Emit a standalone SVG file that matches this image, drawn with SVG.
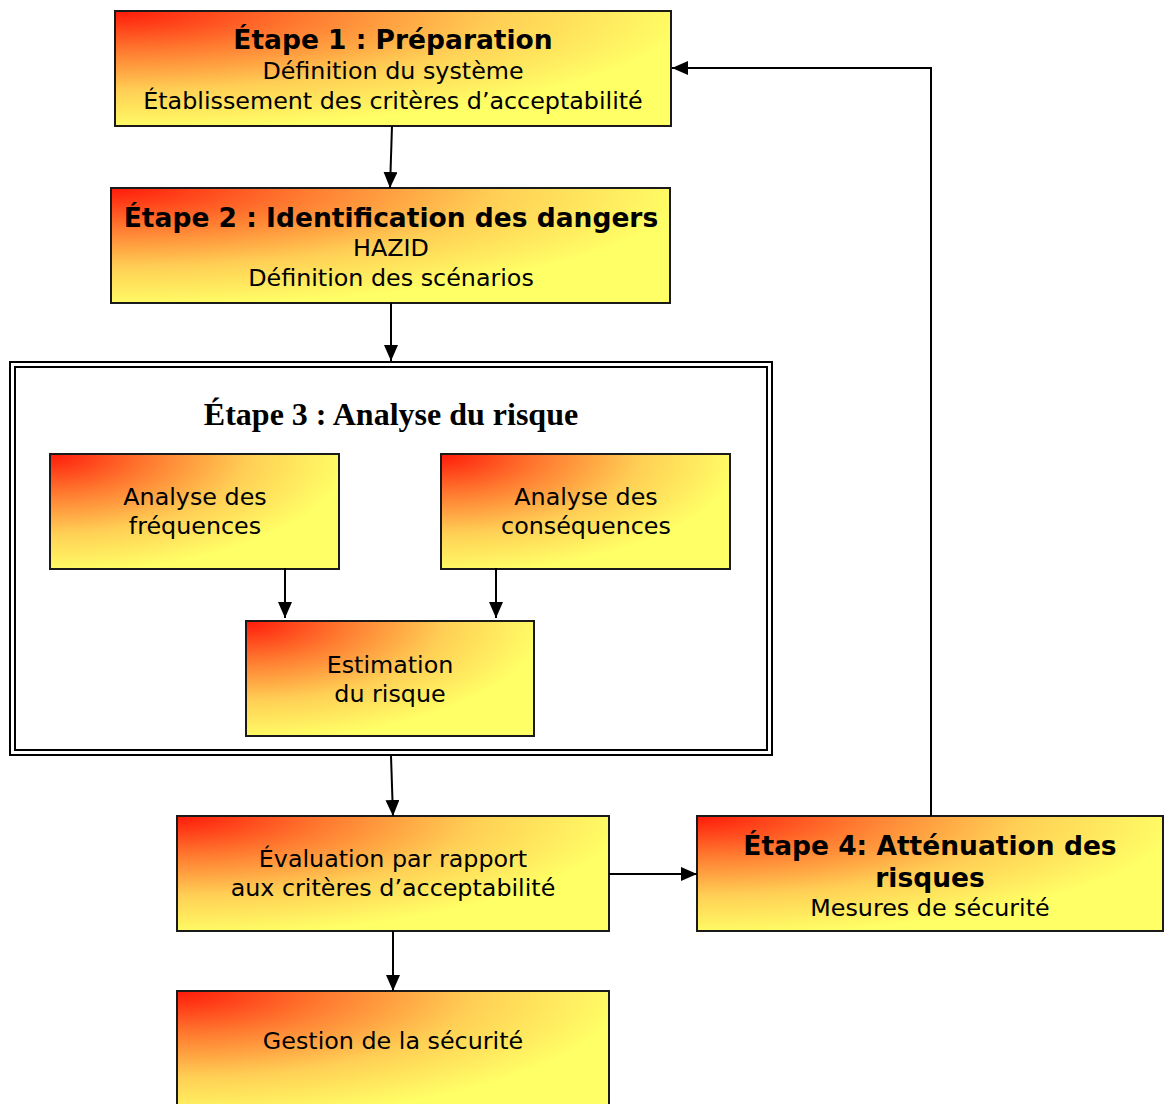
<svg xmlns="http://www.w3.org/2000/svg" width="1164" height="1104" viewBox="0 0 1164 1104">
<defs>
<radialGradient id="g" cx="0" cy="0" r="1.15" gradientUnits="objectBoundingBox">
<stop offset="0" stop-color="#ff1a0a"/>
<stop offset="0.3" stop-color="#ff7a30"/>
<stop offset="0.6" stop-color="#ffcf55"/>
<stop offset="0.9" stop-color="#ffff66"/>
<stop offset="1" stop-color="#ffff66"/>
</radialGradient>
<marker id="ah" markerWidth="16" markerHeight="14" refX="16" refY="7" orient="auto" markerUnits="userSpaceOnUse">
<path d="M0,0 L16,7 L0,14 Z" fill="#000"/>
</marker>
<style>
.box{fill:url(#g);stroke:#1a1a1a;stroke-width:2}
.t{font-family:"DejaVu Sans",Verdana,sans-serif;font-size:23.8px;fill:#000;text-anchor:middle}
.b{font-weight:bold;font-size:26.5px}
.c{fill:none;stroke:#000;stroke-width:2;marker-end:url(#ah)}
</style>
</defs>
<g id="etape3">
<rect x="10" y="362" width="762" height="393" fill="#fff" stroke="#000" stroke-width="2"/>
<rect x="15" y="367" width="752" height="383" fill="none" stroke="#000" stroke-width="2"/>
<text x="391" y="425" text-anchor="middle" font-family="Liberation Serif,Times New Roman,serif" font-weight="bold" font-size="32px">Étape 3 : Analyse du risque</text>
</g>
<g id="etape1">
<rect class="box" x="115" y="11" width="556" height="115"/>
<text class="t b" x="393" y="49">Étape 1 : Préparation</text>
<text class="t" x="393" y="79">Définition du système</text>
<text class="t" x="393" y="109">Établissement des critères d’acceptabilité</text>
</g>
<g id="etape2">
<rect class="box" x="111" y="188" width="559" height="115"/>
<text class="t b" x="391" y="227">Étape 2 : Identification des dangers</text>
<text class="t" x="391" y="256">HAZID</text>
<text class="t" x="391" y="286">Définition des scénarios</text>
</g>
<g id="freq">
<rect class="box" x="50" y="454" width="289" height="115"/>
<text class="t" x="195" y="505">Analyse des</text>
<text class="t" x="195" y="534">fréquences</text>
</g>
<g id="cons">
<rect class="box" x="441" y="454" width="289" height="115"/>
<text class="t" x="586" y="505">Analyse des</text>
<text class="t" x="586" y="534">conséquences</text>
</g>
<g id="estimation">
<rect class="box" x="246" y="621" width="288" height="115"/>
<text class="t" x="390" y="673">Estimation</text>
<text class="t" x="390" y="702">du risque</text>
</g>
<g id="evaluation">
<rect class="box" x="177" y="816" width="432" height="115"/>
<text class="t" x="393" y="867">Évaluation par rapport</text>
<text class="t" x="393" y="896">aux critères d’acceptabilité</text>
</g>
<g id="etape4">
<rect class="box" x="697" y="816" width="466" height="115"/>
<text class="t b" x="930" y="855">Étape 4: Atténuation des</text>
<text class="t b" x="930" y="887">risques</text>
<text class="t" x="930" y="916">Mesures de sécurité</text>
</g>
<g id="gestion">
<rect class="box" x="177" y="991" width="432" height="125"/>
<text class="t" x="393" y="1049">Gestion de la sécurité</text>
</g>
<g id="connectors">
<path class="c" d="M392,126 L390,188"/>
<path class="c" d="M391,303 L391,361"/>
<path class="c" d="M285,568 L285,618"/>
<path class="c" d="M496,568 L496,618"/>
<path class="c" d="M391,756 L393,816"/>
<path class="c" d="M609,874 L697,874"/>
<path class="c" d="M393,931 L393,991"/>
<path class="c" d="M931,816 L931,68 L672,68"/>
</g>
</svg>
